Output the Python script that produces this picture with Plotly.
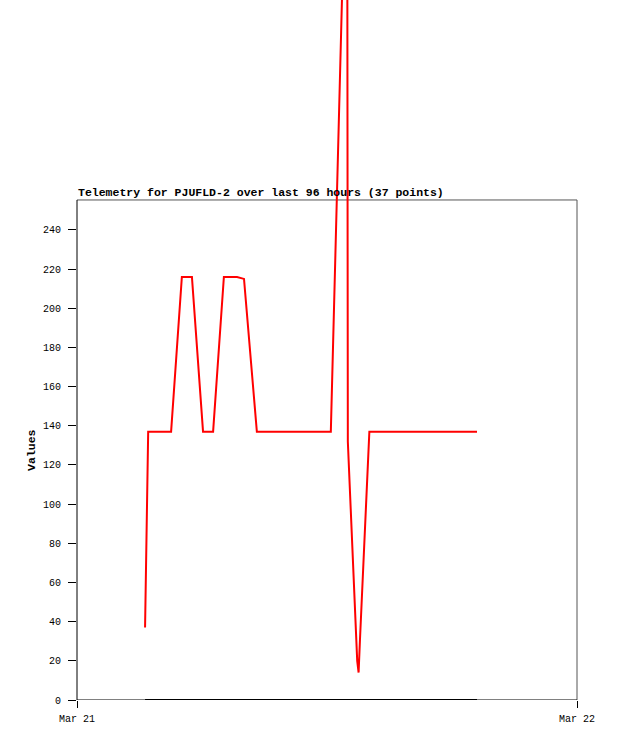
import plotly.graph_objects as go

# Data
times = [
    "2024-03-21 03:16", "2024-03-21 03:25", "2024-03-21 04:31", "2024-03-21 05:02",
    "2024-03-21 05:31", "2024-03-21 06:03", "2024-03-21 06:32", "2024-03-21 07:03",
    "2024-03-21 07:41", "2024-03-21 08:01", "2024-03-21 08:38", "2024-03-21 12:11",
    "2024-03-21 12:58", "2024-03-21 13:00", "2024-03-21 13:27", "2024-03-21 13:31",
    "2024-03-21 13:35", "2024-03-21 14:02", "2024-03-21 19:12",
]
values = [37, 137, 137, 216, 216, 137, 137, 216, 216, 215, 137, 137,
          460, 132, 20, 14, 31, 137, 137]
zero_times = ["2024-03-21 03:16", "2024-03-21 19:12"]
zero_values = [0, 0]

y_ticks = list(range(0, 241, 20))
x_tickvals = ["2024-03-21 00:00", "2024-03-22 00:00"]
x_ticktext = ["Mar 21", "Mar 22"]
title_text = "Telemetry for PJUFLD-2 over last 96 hours (37 points)"

Y_FRAME_TOP = 255.3
Y_MAX = 357.4

fig = go.Figure()
fig.add_trace(go.Scatter(x=zero_times, y=zero_values, mode="lines",
                         line=dict(color="black", width=2), showlegend=False,
                         hoverinfo="skip"))
fig.add_trace(go.Scatter(x=times, y=values, mode="lines",
                         line=dict(color="#ff0000", width=2), showlegend=False))

mono = "Liberation Mono, DejaVu Sans Mono, monospace"

fig.update_layout(
    width=618, height=741,
    margin=dict(l=77, r=41, t=0, b=41),
    paper_bgcolor="white", plot_bgcolor="white",
    showlegend=False,
    xaxis=dict(type="date", range=[x_tickvals[0], x_tickvals[1]],
               tickvals=x_tickvals, ticktext=x_ticktext,
               ticks="outside", ticklen=7, tickcolor="black", tickwidth=1,
               ticklabelstandoff=2,
               showgrid=False, zeroline=False, showline=False,
               tickfont=dict(family=mono, size=10, color="black")),
    yaxis=dict(range=[0, Y_MAX], tickvals=y_ticks,
               ticks="outside", ticklen=8, tickcolor="black", tickwidth=1,
               ticklabelstandoff=5,
               showgrid=False, zeroline=False, showline=False,
               tickfont=dict(family=mono, size=10, color="black")),
    shapes=[
        dict(type="line", xref="paper", yref="y", x0=0, x1=1, y0=Y_FRAME_TOP, y1=Y_FRAME_TOP,
             line=dict(color="#555555", width=1), layer="below"),
        dict(type="line", xref="paper", yref="y", x0=1, x1=1, y0=0, y1=Y_FRAME_TOP,
             line=dict(color="#555555", width=1), layer="below"),
        dict(type="line", xref="paper", yref="y", x0=0, x1=0, y0=0, y1=Y_FRAME_TOP,
             line=dict(color="black", width=1), layer="below"),
        dict(type="line", xref="paper", yref="y", x0=0, x1=1, y0=0, y1=0,
             line=dict(color="black", width=1), layer="below"),
    ],
    annotations=[
        dict(text="<b>" + title_text + "</b>", xref="paper", yref="y", x=0, y=Y_FRAME_TOP,
             xanchor="left", yanchor="bottom", showarrow=False,
             font=dict(family=mono, size=11.5, color="black"), borderpad=0),
        dict(text="<b>Values</b>", xref="paper", yref="y", x=-0.09, y=127.7,
             xanchor="center", yanchor="middle", textangle=-90, showarrow=False,
             font=dict(family=mono, size=11.5, color="black")),
    ],
)

fig.write_html("out.html", config={"displayModeBar": False},
               post_script="document.body.style.margin='0';")
